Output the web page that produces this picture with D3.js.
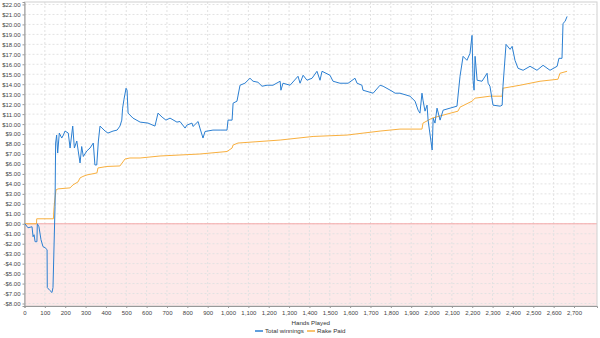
<!DOCTYPE html>
<html>
<head>
<meta charset="utf-8">
<script src="https://cdn.jsdelivr.net/npm/d3@7"></script>
<style>
  body { margin: 0; background: #fff; }
  svg { font-family: "Liberation Sans", Arial, sans-serif; }
</style>
</head>
<body>
<script>
"use strict";

// hands played / total winnings ($)
const winHands = [2,17,37,42,47,52,61,63,71,81,91,101,111,112,125,135,140,150,153,158,163,171,183,191,199,215,224,237,245,257,264,273,281,289,306,322,338,346,355,363,371,396,410,435,455,469,478,482,489,499,504,509,533,568,607,641,656,676,695,715,749,764,789,798,823,828,853,862,877,887,926,961,995,1000,1020,1025,1044,1059,1083,1108,1123,1147,1167,1192,1221,1256,1260,1270,1305,1344,1354,1369,1388,1413,1437,1452,1462,1501,1516,1550,1590,1624,1634,1658,1663,1713,1747,1762,1806,1821,1845,1894,1919,1934,1943,1953,1958,1968,1978,1983,1993,2003,2008,2017,2027,2042,2057,2091,2125,2140,2155,2174,2189,2199,2204,2209,2214,2224,2248,2273,2278,2287,2302,2337,2347,2351,2366,2386,2396,2410,2425,2450,2484,2518,2548,2582,2617,2626,2641,2646,2656,2666];
const winValues = [0,-0.4,-0.3,-1.3,-1.1,-1.8,-1.8,0,-0.3,-1.6,-2.3,-2.4,-2.6,-6.4,-6.7,-6.9,-6.4,1.7,8.1,8.9,7.1,9.1,8.6,8.9,9.3,9.1,7.6,9.8,7.6,8.3,7.3,6.1,7.75,6.75,7.3,7.6,8.1,5.9,5.9,8.3,9.8,9.3,9.1,9.3,9.4,9.8,10.4,11.6,12.5,13.6,13.4,11.1,10.6,10.2,10.1,9.8,11.1,10.7,10.4,10.6,10.2,10.26,9.6,9.9,10.1,9.76,10.26,9.6,8.6,9.26,9.4,9.4,9.4,10.4,10.4,12.1,12.3,13.9,14.1,14.6,14.3,14.2,13.8,13.9,13.9,14.3,13.4,14.1,13.9,14.8,14.1,14.9,14.4,14.6,15.3,14.4,15.3,14.9,14.3,14.1,14.1,14.6,14.1,13.9,13.4,13.1,13.9,13.8,13.3,13.1,13.1,12.8,12.3,11.4,11.1,13.1,12.4,11.3,11.9,10.4,8.9,7.4,10.6,10.1,11.6,10.4,11.4,11.6,11.8,14.8,16.8,16.4,17.1,18.9,14.4,13.4,16.8,14.4,14.3,15.1,14.1,13.8,11.9,11.8,11.9,13.8,18.0,17.5,17.8,16.4,15.6,15.4,15.8,15.4,15.9,15.4,15.8,16.6,16.6,20.1,20.3,20.8];

// hands played / rake paid ($)
const rakeHands = [2,59,60,142,145,150,155,165,224,238,263,273,287,307,356,361,405,469,494,518,568,666,764,862,995,1020,1025,1049,1256,1418,1585,1747,1845,1953,1958,2003,2057,2130,2140,2199,2214,2287,2347,2351,2435,2533,2621,2631,2666];
const rakeValues = [0,0,0.5,0.5,1.6,2.6,3.4,3.5,3.6,3.9,4.2,4.6,4.75,4.9,5.1,5.6,5.75,5.8,6.5,6.6,6.6,6.8,6.9,7.0,7.25,7.6,7.9,8.1,8.4,8.76,8.9,9.3,9.5,9.5,10.1,10.6,10.9,11.3,11.7,12.3,12.6,12.8,12.8,13.6,13.9,14.3,14.5,15.1,15.3];

const xTicks = d3.range(0, 2701, 100);
const yTicks = d3.range(-8, 23, 1);
const seriesNames = ["Total winnings", "Rake Paid"];
const seriesColors = ["#2b7fd2", "#f9b03f"];

const W = 600, H = 338;
const pLeft = 24.5, pRight = 597, pTop = 2, pBottom = 306;

const svg = d3.select("body").append("svg")
  .attr("width", W).attr("height", H);

const x = d3.scaleLinear().domain([0, 2813]).range([pLeft, pRight]);
const y = d3.scaleLinear().domain([-8.25, 22.25]).range([pBottom, pTop]);

// negative zone
svg.append("rect")
  .attr("x", pLeft).attr("y", y(0))
  .attr("width", pRight - pLeft).attr("height", pBottom - y(0))
  .attr("fill", "#fde9e9");

// grid
svg.append("g").selectAll("line").data(xTicks.slice(1)).enter().append("line")
  .attr("x1", d => x(d)).attr("x2", d => x(d))
  .attr("y1", pTop).attr("y2", pBottom)
  .attr("stroke", "#e2e2e2").attr("stroke-dasharray", "2,2");
svg.append("g").selectAll("line").data(yTicks).enter().append("line")
  .attr("x1", pLeft).attr("x2", pRight)
  .attr("y1", d => y(d)).attr("y2", d => y(d))
  .attr("stroke", "#e2e2e2").attr("stroke-dasharray", "2,2");

// zero line
svg.append("line")
  .attr("x1", pLeft).attr("x2", pRight)
  .attr("y1", y(0)).attr("y2", y(0))
  .attr("stroke", "#f6a9a9").attr("stroke-width", 1);

// border
svg.append("rect")
  .attr("x", pLeft).attr("y", pTop)
  .attr("width", pRight - pLeft).attr("height", pBottom - pTop)
  .attr("fill", "none").attr("stroke", "#d0d0d0");

const money = v => (v < 0 ? "-$" : "$") + Math.abs(v).toFixed(2);

const yAxis = d3.axisLeft(y).tickValues(yTicks).tickFormat(money).tickSize(2).tickPadding(2);
const xAxis = d3.axisBottom(x).tickValues(xTicks).tickFormat(d3.format(",")).tickSize(2).tickPadding(3);

const gy = svg.append("g").attr("transform", "translate(" + pLeft + ",0)").call(yAxis);
const gx = svg.append("g").attr("transform", "translate(0," + pBottom + ")").call(xAxis);
[gx, gy].forEach(g => {
  g.select(".domain").attr("stroke", "#999");
  g.selectAll(".tick line").attr("stroke", "#999");
  g.selectAll("text").attr("fill", "#444").style("font-size", "6px").style("font-family", "Liberation Sans, Arial, sans-serif");
});

svg.append("text")
  .attr("x", (pLeft + pRight) / 2).attr("y", 325)
  .attr("text-anchor", "middle")
  .attr("fill", "#333").style("font-size", "6.2px")
  .text("Hands Played");

const line = d3.line().x(d => x(d[0])).y(d => y(d[1]));

const rakeData = rakeHands.map((h, i) => [h, rakeValues[i]]);
const winData = winHands.map((h, i) => [h, winValues[i]]);

svg.append("path").datum(rakeData)
  .attr("d", line).attr("fill", "none")
  .attr("stroke", seriesColors[1]).attr("stroke-width", 1);
svg.append("path").datum(winData)
  .attr("d", line).attr("fill", "none")
  .attr("stroke", seriesColors[0]).attr("stroke-width", 1).attr("stroke-linejoin", "round");

// legend
const legX = [255, 307];
seriesNames.forEach((n, i) => {
  svg.append("line")
    .attr("x1", legX[i]).attr("x2", legX[i] + 8)
    .attr("y1", 331).attr("y2", 331)
    .attr("stroke", seriesColors[i]).attr("stroke-width", 1.5);
  svg.append("text")
    .attr("x", legX[i] + 10).attr("y", 333.2)
    .attr("fill", "#333").style("font-size", "6.2px")
    .text(n);
});
</script>
</body>
</html>
